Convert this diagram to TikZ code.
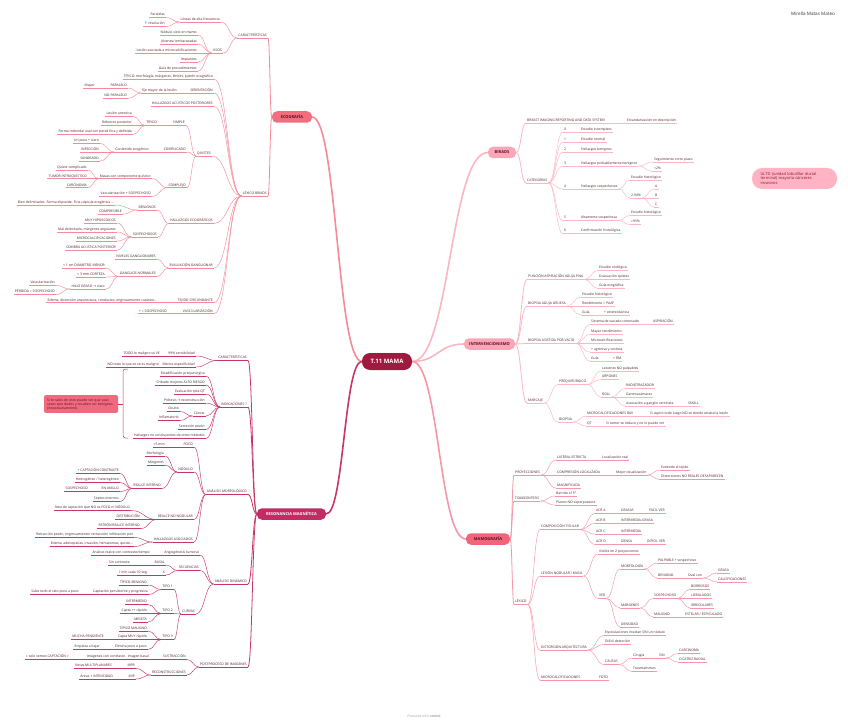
\documentclass[tikz,border=0pt]{standalone}
\usepackage{fontspec}
\setmainfont{Open Sans}
\newfontfamily\symf{DejaVu Sans}
\usetikzlibrary{calc}
\definecolor{txt}{RGB}{74,34,40}
\definecolor{mtxt}{RGB}{92,15,36}
\definecolor{hubF}{RGB}{158,26,62}
\definecolor{ecoF}{RGB}{242,110,127}
\definecolor{ecoL}{RGB}{245,138,153}
\definecolor{rmF}{RGB}{196,42,99}
\definecolor{rmL}{RGB}{201,53,107}
\definecolor{birF}{RGB}{249,167,184}
\definecolor{birL}{RGB}{251,182,195}
\definecolor{mamF}{RGB}{240,101,123}
\definecolor{mamL}{RGB}{245,151,168}
\definecolor{noteF}{RGB}{240,106,126}
\definecolor{ultdF}{RGB}{255,179,195}
\definecolor{ultdT}{RGB}{140,26,58}
\colorlet{brc}{ecoL}

\begin{document}
\begin{tikzpicture}[x=1pt, y=-1pt,
    leaf/.style={font=\fontsize{3.4}{4}\selectfont, text=txt, inner xsep=1pt, inner ysep=0.6pt,
                 text height=2.5pt, text depth=0.75pt,
                 append after command={(\tikzlastnode.south west) edge[draw=brc, line width=#1] (\tikzlastnode.south east)}},
    leaf/.default=0.45pt,
    lleaf/.style={leaf=#1, anchor=south east}, lleaf/.default=0.45pt,
    rleaf/.style={leaf=#1, anchor=south west}, rleaf/.default=0.45pt,
    lk/.style={draw=brc, line width=#1, to path={let \p1=(\tikztostart), \p2=(\tikztotarget) in
               .. controls ({(\x1+\x2)/2},\y1) and ({(\x1+\x2)/2},\y2) .. (\tikztotarget)}},
    lk/.default=0.45pt,
    mainb/.style={rounded corners=5pt, fill=#1, text=mtxt, font=\bfseries\fontsize{4}{5}\selectfont,
                  minimum height=11.5pt, inner xsep=4pt, inner ysep=0pt},
    hub/.style={rounded corners=8pt, fill=hubF, text=white, font=\bfseries\fontsize{6}{7}\selectfont,
                minimum width=50pt, minimum height=17pt}]

  \fill[white] (0,0) rectangle (848,722);
  \useasboundingbox (0,0) rectangle (848,722);

  \node[hub] (hub) at (387,361.5) {T.11 MAMA};
  \node[font=\fontsize{4.6}{5}\selectfont, text=black!80] (autor) at (813,14) {Mirella Matas Mateo};
  \node[font=\fontsize{3.4}{4}\selectfont, text=black!35] (pie) at (424,716) {Powered with \textbf{xmind}};
  \node[fill=ultdF, rounded corners=10pt, text=ultdT, font=\fontsize{4}{4.8}\selectfont, align=left,
        text width=68pt, minimum width=85pt, minimum height=21pt] (ultd) at (794.5,178.5)
        {ULTD (unidad lobulillar ductal\\terminal) mayoría cánceres\\invasivos};

  % ecografia
  \begin{scope}
  \colorlet{brc}{ecoL}
  \node[mainb=ecoF, minimum width=40pt] (eco) at (292,117) {ECOGRAFÍA};
  \draw[lk=1.6pt] (hub.west) to (eco.east);

  \node[lleaf=0.7pt] (eCar) at (268,38) {CARACTERÍSTICAS};
  \draw[lk=0.8pt] (eco.west) to (eCar.south east);
  \node[lleaf] (eLin) at (221,22) {Líneas de alta frecuencia};
  \draw[lk] (eCar.south west) to (eLin.south east);
  \node[lleaf] (ePar) at (166,17.5) {Paralelas};
  \draw[lk] (eLin.south west) to (ePar.south east);
  \node[lleaf] (eRes) at (166,26.5) {{\symf ↑} resolución};
  \draw[lk] (eLin.south west) to (eRes.south east);
  \node[lleaf] (eUso) at (223,53) {USOS};
  \draw[lk] (eCar.south west) to (eUso.south east);
  \node[lleaf] (eU1) at (198,35) {Nódulo visto en mamo};
  \draw[lk] (eUso.south west) to (eU1.south east);
  \node[lleaf] (eU2) at (198,44) {Jóvenes/ embarazadas};
  \draw[lk] (eUso.south west) to (eU2.south east);
  \node[lleaf] (eU3) at (198,53) {Lesión asociada a microcalcificaciones};
  \draw[lk] (eUso.south west) to (eU3.south east);
  \node[lleaf] (eU4) at (198,62) {Implantes};
  \draw[lk] (eUso.south west) to (eU4.south east);
  \node[lleaf] (eU5) at (198,71) {Guía de procedimientos};
  \draw[lk] (eUso.south west) to (eU5.south east);

  \node[lleaf=0.7pt] (eLex) at (268,196) {LÉXICO BIRADS};
  \draw[lk=0.8pt] (eco.west) to (eLex.south east);
  \node[lleaf] (eTip) at (214,79) {TÍPICO: morfología, márgenes, límites, patrón ecográfico};
  \draw[lk] (eLex.south west) to (eTip.south east);
  \node[lleaf] (eOri) at (214,93) {ORIENTACIÓN};
  \draw[lk] (eLex.south west) to (eOri.south east);
  \node[lleaf] (eEje) at (178,93) {Eje mayor de la lesión};
  \draw[lk] (eOri.south west) to (eEje.south east);
  \node[lleaf] (ePa) at (128,88) {PARALELO};
  \draw[lk] (eEje.south west) to (ePa.south east);
  \node[lleaf] (eMay) at (96,88) {Mayor};
  \draw[lk] (ePa.south west) to (eMay.south east);
  \node[lleaf] (eNpa) at (128,98.5) {NO PARALELO};
  \draw[lk] (eEje.south west) to (eNpa.south east);
  \node[lleaf] (eAcu) at (214,106.5) {HALLAZGOS ACÚSTICOS POSTERIORES};
  \draw[lk] (eLex.south west) to (eAcu.south east);

  \node[lleaf] (eQui) at (212,156) {QUISTES};
  \draw[lk] (eLex.south west) to (eQui.south east);
  \node[lleaf] (eSim) at (186,125.5) {SIMPLE};
  \draw[lk] (eQui.south west) to (eSim.south east);
  \node[lleaf] (eTi2) at (158,125.5) {TÍPICO};
  \draw[lk] (eSim.south west) to (eTi2.south east);
  \node[lleaf] (eAne) at (133,116.5) {Lesión anecoica};
  \draw[lk] (eTi2.south west) to (eAne.south east);
  \node[lleaf] (eRef) at (133,125.5) {Refuerzo posterior};
  \draw[lk] (eTi2.south west) to (eRef.south east);
  \node[lleaf] (eFor) at (133,134.5) {Forma redonda/ oval con pared fina y definida};
  \draw[lk] (eTi2.south west) to (eFor.south east);
  \node[lleaf] (eCom) at (187,152) {COMPLICADO};
  \draw[lk] (eQui.south west) to (eCom.south east);
  \node[lleaf] (eCon) at (150,152) {Contenido ecogénico};
  \draw[lk] (eCom.south west) to (eCon.south east);
  \node[lleaf] (eCla) at (100,143.5) {Un poco + claro};
  \draw[lk] (eCon.south west) to (eCla.south east);
  \node[lleaf] (eInf) at (100,152) {INFECCIÓN};
  \draw[lk] (eCon.south west) to (eInf.south east);
  \node[lleaf] (eSan) at (100,161) {SANGRADO};
  \draw[lk] (eCon.south west) to (eSan.south east);
  \node[lleaf] (eCpj) at (187,187.7) {COMPLEJO};
  \draw[lk] (eQui.south west) to (eCpj.south east);
  \node[lleaf] (eMas) at (152,178.7) {Masas con componente quístico};
  \draw[lk] (eCpj.south west) to (eMas.south east);
  \node[lleaf] (eQco) at (88,170) {Quiste complicado};
  \draw[lk] (eMas.south west) to (eQco.south east);
  \node[lleaf] (eTum) at (88,178.7) {TUMOR INTRAQUÍSTICO};
  \draw[lk] (eMas.south west) to (eTum.south east);
  \node[lleaf] (eCar2) at (88,187.7) {CARCINOMA};
  \draw[lk] (eMas.south west) to (eCar2.south east);
  \node[lleaf] (eVas) at (152,196.4) {Vascularización + SOSPECHOSO};
  \draw[lk] (eCpj.south west) to (eVas.south east);

  \node[lleaf] (eHal) at (214,223.5) {HALLAZGOS ECOGRÁFICOS};
  \draw[lk] (eLex.south west) to (eHal.south east);
  \node[lleaf] (eBen) at (157,210) {BENIGNOS};
  \draw[lk] (eHal.south west) to (eBen.south east);
  \node[lleaf] (eBie) at (115,205) {Bien delimitados. Forma elipsoide. Fina cápsula ecogénica ...};
  \draw[lk] (eBen.south west) to (eBie.south east);
  \node[lleaf] (eCps) at (123,214) {COMPRESIBLE};
  \draw[lk] (eBen.south west) to (eCps.south east);
  \node[lleaf] (eSos) at (158,237) {SOSPECHOSOS};
  \draw[lk] (eHal.south west) to (eSos.south east);
  \node[lleaf] (eS1) at (117,223) {MUY HIPOECOICOS};
  \draw[lk] (eSos.south west) to (eS1.south east);
  \node[lleaf] (eS2) at (117,232) {Mal delimitado, márgenes angulares};
  \draw[lk] (eSos.south west) to (eS2.south east);
  \node[lleaf] (eS3) at (117,241) {MICROCALCIFICACIONES};
  \draw[lk] (eSos.south west) to (eS3.south east);
  \node[lleaf] (eS4) at (117,250) {SOMBRA ACÚSTICA POSTERIOR};
  \draw[lk] (eSos.south west) to (eS4.south east);

  \node[lleaf] (eGan) at (214,268) {EVALUACIÓN GANGLIONAR};
  \draw[lk] (eLex.south west) to (eGan.south east);
  \node[lleaf] (eNiv) at (157,259) {NIVELES GANGLIONARES};
  \draw[lk] (eGan.south west) to (eNiv.south east);
  \node[lleaf] (eGno) at (157,276.5) {GANGLIOS NORMALES};
  \draw[lk] (eGan.south west) to (eGno.south east);
  \node[lleaf] (eG1) at (106,268) {< 1 cm DIÁMETRO MENOR};
  \draw[lk] (eGno.south west) to (eG1.south east);
  \node[lleaf] (eG2) at (106,277) {< 3 mm CORTEZA};
  \draw[lk] (eGno.south west) to (eG2.south east);
  \node[lleaf] (eG3) at (106,289) {HILIO GRASO {\symf →} claro};
  \draw[lk] (eGno.south west) to (eG3.south east);
  \node[lleaf] (eHv) at (56,285.5) {Vascularización};
  \draw[lk] (eG3.south west) to (eHv.south east);
  \node[lleaf] (eHp) at (56,294.5) {PÉRDIDA = SOSPECHOSO};
  \draw[lk] (eG3.south west) to (eHp.south east);

  \node[lleaf] (eTej) at (214,302.7) {TEJIDO CIRCUNDANTE};
  \draw[lk] (eLex.south west) to (eTej.south east);
  \node[lleaf] (eEde) at (158,302.7) {Edema, distorsión arquitectura, conductos, engrosamiento cutáneo...};
  \draw[lk] (eTej.south west) to (eEde.south east);
  \node[lleaf] (eVsc) at (214,313.7) {VASCULARIZACIÓN};
  \draw[lk] (eLex.south west) to (eVsc.south east);
  \node[lleaf] (eVss) at (168,313.7) {+ = SOSPECHOSO};
  \draw[lk] (eVsc.south west) to (eVss.south east);
  \end{scope}

  % resonancia magnetica
  \begin{scope}
  \colorlet{brc}{rmL}
  \node[mainb=rmF, text=white, minimum width=69pt] (rm) at (291.5,514) {RESONANCIA MAGNÉTICA};
  \draw[lk=1.6pt] (hub.west) to (rm.east);

  \node[lleaf=0.7pt] (rCar) at (248,360.5) {CARACTERÍSTICAS};
  \draw[lk=0.8pt] (rm.west) to (rCar.south east);
  \node[lleaf] (r99) at (196,356) {99\% sensibilidad};
  \draw[lk] (rCar.south west) to (r99.south east);
  \node[lleaf] (rTodo) at (161,356) {TODO lo maligno se VE};
  \draw[lk] (r99.south west) to (rTodo.south east);
  \node[lleaf] (rMen) at (196,367) {Menos especificidad};
  \draw[lk] (rCar.south west) to (rMen.south east);
  \node[lleaf] (rNo) at (160,367) {NO todo lo que se ve es maligno};
  \draw[lk] (rMen.south west) to (rNo.south east);

  \node[lleaf=0.7pt] (rInd) at (248,407) {INDICACIONES ?};
  \draw[lk=0.8pt] (rm.west) to (rInd.south east);
  \node[lleaf] (rEst) at (206,376) {Estadificación prequirúrgica};
  \draw[lk] (rInd.south west) to (rEst.south east);
  \node[lleaf] (rCri) at (206,385) {Cribado mujeres ALTO RIESGO};
  \draw[lk] (rInd.south west) to (rCri.south east);
  \node[lleaf] (rEva) at (206,394) {Evaluación rpta QT};
  \draw[lk] (rInd.south west) to (rEva.south east);
  \node[lleaf] (rPro) at (206,403) {Prótesis {\symf →} reconstrucción};
  \draw[lk] (rInd.south west) to (rPro.south east);
  \node[lleaf] (rCan) at (206,416) {Cáncer};
  \draw[lk] (rInd.south west) to (rCan.south east);
  \node[lleaf] (rOcu) at (180,411.5) {Oculto};
  \draw[lk] (rCan.south west) to (rOcu.south east);
  \node[lleaf] (rInf) at (180,420.5) {Inflamatorio};
  \draw[lk] (rCan.south west) to (rInf.south east);
  \node[lleaf] (rSec) at (206,429.5) {Secreción pezón};
  \draw[lk] (rInd.south west) to (rSec.south east);
  \node[lleaf] (rHal) at (206,438.5) {Hallazgos no concluyentes de otros métodos};
  \draw[lk] (rInd.south west) to (rHal.south east);

  \node[fill=noteF, rounded corners=2pt, text=mtxt, font=\fontsize{3.4}{4}\selectfont, align=left,
        text width=68pt, minimum width=74pt, minimum height=14pt, inner xsep=2pt] (nota) at (81,404)
        {Si te sales de esto puede ser que veas\\casos que dudes y resulten ser benignos\\(innecesariamente)};
  \coordinate (brT) at (128,369);
  \coordinate (brB) at (128,438);
  \coordinate (brM) at (123,404);
  \draw[draw=brc, line width=0.5pt, rounded corners=2.5pt] (brT) -- (123,369) -- (123,438) -- (brB);
  \draw[lk] (nota.east) -- (brM);

  \node[lleaf=0.7pt] (rMor) at (248,494.5) {ANÁLISIS MORFOLÓGICO};
  \draw[lk=0.8pt] (rm.west) to (rMor.south east);
  \node[lleaf] (rFoc) at (194,447) {FOCO};
  \draw[lk] (rMor.south west) to (rFoc.south east);
  \node[lleaf] (r5mm) at (166,447) {<5 mm};
  \draw[lk] (rFoc.south west) to (r5mm.south east);
  \node[lleaf] (rNod) at (194,472) {NÓDULO};
  \draw[lk] (rMor.south west) to (rNod.south east);
  \node[lleaf] (rMorf) at (165,456) {Morfología};
  \draw[lk] (rNod.south west) to (rMorf.south east);
  \node[lleaf] (rMar) at (165,465) {Márgenes};
  \draw[lk] (rNod.south west) to (rMar.south east);
  \node[lleaf] (rRea) at (162,488.5) {REALCE INTERNO};
  \draw[lk] (rNod.south west) to (rRea.south east);
  \node[lleaf] (rCap) at (120,473.5) {+ CAPTACIÓN CONTRASTE};
  \draw[lk] (rRea.south west) to (rCap.south east);
  \node[lleaf] (rHom) at (120,482.5) {Homogéneo / heterogéneo};
  \draw[lk] (rRea.south west) to (rHom.south east);
  \node[lleaf] (rAni) at (120,491.5) {EN ANILLO};
  \draw[lk] (rRea.south west) to (rAni.south east);
  \node[lleaf] (rSos) at (89,491.5) {SOSPECHOSO};
  \draw[lk] (rAni.south west) to (rSos.south east);
  \node[lleaf] (rSep) at (120,501.5) {Septos internos};
  \draw[lk] (rRea.south west) to (rSep.south east);
  \node[lleaf] (rRnn) at (194,519.5) {REALCE NO NODULAR};
  \draw[lk] (rMor.south west) to (rRnn.south east);
  \node[lleaf] (rAre) at (131,510.5) {Área de captación que NO es FOCO ni NÓDULO};
  \draw[lk] (rRnn.south west) to (rAre.south east);
  \node[lleaf] (rDis) at (141,519.5) {DISTRIBUCIÓN};
  \draw[lk] (rRnn.south west) to (rDis.south east);
  \node[lleaf] (rPat) at (141,528.5) {PATRÓN REALCE INTERNO};
  \draw[lk] (rRnn.south west) to (rPat.south east);
  \node[lleaf] (rAso) at (194,542) {HALLAZGOS ASOCIADOS};
  \draw[lk] (rMor.south west) to (rAso.south east);
  \node[lleaf] (rRet) at (134,537.5) {Retracción pezón, engrosamiento/ retracción/ infiltración piel};
  \draw[lk] (rAso.south west) to (rRet.south east);
  \node[lleaf] (rEde) at (134,546.5) {Edema, adenopatías, invasión, hematomas, quiste...};
  \draw[lk] (rAso.south west) to (rEde.south east);

  \node[lleaf=0.7pt] (rDin) at (248,584) {ANÁLISIS DINÁMICO};
  \draw[lk=0.8pt] (rm.west) to (rDin.south east);
  \node[lleaf] (rAng) at (200,555) {Angiogénesis tumoral};
  \draw[lk] (rDin.south west) to (rAng.south east);
  \node[lleaf] (rAnr) at (151,555) {Análisis realce con contraste/tiempo};
  \draw[lk] (rAng.south west) to (rAnr.south east);
  \node[lleaf] (rSecu) at (200,570.5) {SECUENCIAS};
  \draw[lk] (rDin.south west) to (rSecu.south east);
  \node[lleaf] (rBas) at (166,565) {BASAL};
  \draw[lk] (rSecu.south west) to (rBas.south east);
  \node[lleaf] (rSin) at (131,565) {Sin contraste};
  \draw[lk] (rBas.south west) to (rSin.south east);
  \node[lleaf] (rX) at (166,575) {X};
  \draw[lk] (rSecu.south west) to (rX.south east);
  \node[lleaf] (rMin) at (149,575) {1 min cada 10 seg.};
  \draw[lk] (rX.south west) to (rMin.south east);
  \node[lleaf] (rCur) at (196,614) {CURVAS};
  \draw[lk] (rDin.south west) to (rCur.south east);
  \node[lleaf] (rT1) at (174,589.5) {TIPO 1};
  \draw[lk] (rCur.south west) to (rT1.south east);
  \node[lleaf] (rTb) at (148,585) {TÍPICO BENIGNO};
  \draw[lk] (rT1.south west) to (rTb.south east);
  \node[lleaf] (rCp) at (149,594.5) {Captación persistente y progresiva};
  \draw[lk] (rT1.south west) to (rCp.south east);
  \node[lleaf] (rSub) at (80,594.5) {Sube todo el rato poco a poco};
  \draw[lk] (rCp.south west) to (rSub.south east);
  \node[lleaf] (rT2) at (174,613.5) {TIPO 2};
  \draw[lk] (rCur.south west) to (rT2.south east);
  \node[lleaf] (rInt) at (148,604.5) {INTERMEDIO};
  \draw[lk] (rT2.south west) to (rInt.south east);
  \node[lleaf] (rCap2) at (148,613.5) {Capta ++ rápido};
  \draw[lk] (rT2.south west) to (rCap2.south east);
  \node[lleaf] (rMes) at (148,622) {MESETA};
  \draw[lk] (rT2.south west) to (rMes.south east);
  \node[lleaf] (rT3) at (174,639.5) {TIPO 3};
  \draw[lk] (rCur.south west) to (rT3.south east);
  \node[lleaf] (rTm) at (148,631) {TÍPICO MALIGNO};
  \draw[lk] (rT3.south west) to (rTm.south east);
  \node[lleaf] (rMuy) at (148,639.5) {Capta MUY rápido};
  \draw[lk] (rT3.south west) to (rMuy.south east);
  \node[lleaf] (rMuc) at (105,639.5) {MUCHA PENDIENTE};
  \draw[lk] (rMuy.south west) to (rMuc.south east);
  \node[lleaf] (rEli) at (148,649.5) {Elimina poco a poco};
  \draw[lk] (rT3.south west) to (rEli.south east);
  \node[lleaf] (rEmp) at (101,649.5) {Empieza a bajar};
  \draw[lk] (rEli.south west) to (rEmp.south east);

  \node[lleaf=0.7pt] (rPost) at (248,667) {POSTPROCESO DE IMÁGENES};
  \draw[lk=0.8pt] (rm.west) to (rPost.south east);
  \node[lleaf] (rSus) at (187,659.5) {SUSTRACCIÓN};
  \draw[lk] (rPost.south west) to (rSus.south east);
  \node[lleaf] (rImg) at (150,659.5) {Imágenes con contraste - imagen basal};
  \draw[lk] (rSus.south west) to (rImg.south east);
  \node[lleaf] (rSolo) at (70,659.5) {= solo vemos CAPTACIÓN =};
  \draw[lk] (rImg.south west) to (rSolo.south east);
  \node[lleaf] (rRec) at (187,675) {RECONSTRUCCIONES};
  \draw[lk] (rPost.south west) to (rRec.south east);
  \node[lleaf] (rMpr) at (136,668.5) {MPR};
  \draw[lk] (rRec.south west) to (rMpr.south east);
  \node[lleaf] (rVis) at (113,668.5) {Vistas MULTIPLANARES};
  \draw[lk] (rMpr.south west) to (rVis.south east);
  \node[lleaf] (rMip) at (136,679) {MIP};
  \draw[lk] (rRec.south west) to (rMip.south east);
  \node[lleaf] (rAin) at (114,679) {Áreas + INTENSIDAD};
  \draw[lk] (rMip.south west) to (rAin.south east);
  \end{scope}

  % birads
  \begin{scope}
  \colorlet{brc}{birL}
  \node[mainb=birF, minimum width=28pt] (bir) at (502,152.5) {BIRADS};
  \draw[lk=1.6pt] (hub.east) to (bir.west);
  \node[rleaf=0.7pt] (bDef) at (526,123) {BREAST IMAGING REPORTING AND DATA SYSTEM};
  \draw[lk=0.8pt] (bir.east) to (bDef.south west);
  \node[rleaf] (bEst) at (626,123) {Estandarización en descripción};
  \draw[lk] (bDef.south east) to (bEst.south west);
  \node[rleaf=0.7pt] (bCat) at (526,183) {CATEGORÍAS};
  \draw[lk=0.8pt] (bir.east) to (bCat.south west);
  \node[rleaf] (b0) at (563,132) {0};
  \draw[lk] (bCat.south east) to (b0.south west);
  \node[rleaf] (b0t) at (580,132) {Estudio incompleto};
  \draw[lk] (b0.south east) to (b0t.south west);
  \node[rleaf] (b1) at (563,142) {1};
  \draw[lk] (bCat.south east) to (b1.south west);
  \node[rleaf] (b1t) at (580,142) {Estudio normal};
  \draw[lk] (b1.south east) to (b1t.south west);
  \node[rleaf] (b2) at (563,152) {2};
  \draw[lk] (bCat.south east) to (b2.south west);
  \node[rleaf] (b2t) at (580,152) {Hallazgos benignos};
  \draw[lk] (b2.south east) to (b2t.south west);
  \node[rleaf] (b3) at (563,166) {3};
  \draw[lk] (bCat.south east) to (b3.south west);
  \node[rleaf] (b3t) at (580,166) {Hallazgos probablemente benignos};
  \draw[lk] (b3.south east) to (b3t.south west);
  \node[rleaf] (b3a) at (653,162) {Seguimiento corto plazo};
  \draw[lk] (b3t.south east) to (b3a.south west);
  \node[rleaf] (b3b) at (653,171.5) {<2\%};
  \draw[lk] (b3t.south east) to (b3b.south west);
  \node[rleaf] (b4) at (563,189) {4};
  \draw[lk] (bCat.south east) to (b4.south west);
  \node[rleaf] (b4t) at (580,189) {Hallazgos sospechosos};
  \draw[lk] (b4.south east) to (b4t.south west);
  \node[rleaf] (b4a) at (630,180) {Estudio histológico};
  \draw[lk] (b4t.south east) to (b4a.south west);
  \node[rleaf] (b4b) at (630,198) {2-94\%};
  \draw[lk] (b4t.south east) to (b4b.south west);
  \node[rleaf] (b4A) at (654,189) {A};
  \draw[lk] (b4b.south east) to (b4A.south west);
  \node[rleaf] (b4B) at (654,198) {B};
  \draw[lk] (b4b.south east) to (b4B.south west);
  \node[rleaf] (b4C) at (654,207) {C};
  \draw[lk] (b4b.south east) to (b4C.south west);
  \node[rleaf] (b5) at (563,220.5) {5};
  \draw[lk] (bCat.south east) to (b5.south west);
  \node[rleaf] (b5t) at (580,220.5) {Altamente sospechosa};
  \draw[lk] (b5.south east) to (b5t.south west);
  \node[rleaf] (b5a) at (630,215.5) {Estudio histológico};
  \draw[lk] (b5t.south east) to (b5a.south west);
  \node[rleaf] (b5b) at (630,224.5) {>95\%};
  \draw[lk] (b5t.south east) to (b5b.south west);
  \node[rleaf] (b6) at (563,233.5) {6};
  \draw[lk] (bCat.south east) to (b6.south west);
  \node[rleaf] (b6t) at (580,233.5) {Confirmación histológica};
  \draw[lk] (b6.south east) to (b6t.south west);
  \end{scope}

  % intervencionismo
  \begin{scope}
  \colorlet{brc}{birL}
  \node[mainb=birF, minimum width=51pt] (int) at (489.5,344) {INTERVENCIONISMO};
  \draw[lk=1.6pt] (hub.east) to (int.west);
  \node[rleaf=0.7pt] (iPaaf) at (527,279.5) {PUNCIÓN ASPIRACIÓN AGUJA FINA};
  \draw[lk=0.8pt] (int.east) to (iPaaf.south west);
  \node[rleaf] (iCit) at (598,270.5) {Estudio citológico};
  \draw[lk] (iPaaf.south east) to (iCit.south west);
  \node[rleaf] (iEva) at (598,279.5) {Evacuación quistes};
  \draw[lk] (iPaaf.south east) to (iEva.south west);
  \node[rleaf] (iGui) at (598,288.5) {Guía ecográfica};
  \draw[lk] (iPaaf.south east) to (iGui.south west);
  \node[rleaf=0.7pt] (iBag) at (527,306) {BIOPSIA AGUJA GRUESA};
  \draw[lk=0.8pt] (int.east) to (iBag.south west);
  \node[rleaf] (iHis) at (581,297) {Estudio histológico};
  \draw[lk] (iBag.south east) to (iHis.south west);
  \node[rleaf] (iRen) at (581,306) {Rendimiento > PAAF};
  \draw[lk] (iBag.south east) to (iRen.south west);
  \node[rleaf] (iGu2) at (581,315) {Guía};
  \draw[lk] (iBag.south east) to (iGu2.south west);
  \node[rleaf] (iEst) at (603,315) {+ estereotáctica};
  \draw[lk] (iGu2.south east) to (iEst.south west);
  \node[rleaf=0.7pt] (iBav) at (527,343.5) {BIOPSIA ASISTIDA POR VACÍO};
  \draw[lk=0.8pt] (int.east) to (iBav.south west);
  \node[rleaf] (iSis) at (590,324.5) {Sistema de vaciado conectado};
  \draw[lk] (iBav.south east) to (iSis.south west);
  \node[rleaf] (iAsp) at (652,324.5) {ASPIRACIÓN};
  \draw[lk] (iSis.south east) to (iAsp.south west);
  \node[rleaf] (iMay) at (590,334.5) {Mayor rendimiento};
  \draw[lk] (iBav.south east) to (iMay.south west);
  \node[rleaf] (iMic) at (590,343.5) {Microcalcificaciones};
  \draw[lk] (iBav.south east) to (iMic.south west);
  \node[rleaf] (iAgr) at (590,352) {+ agresiva y costosa};
  \draw[lk] (iBav.south east) to (iAgr.south west);
  \node[rleaf] (iGu3) at (590,361) {Guía};
  \draw[lk] (iBav.south east) to (iGu3.south west);
  \node[rleaf] (iRm) at (612,361) {+ RM};
  \draw[lk] (iGu3.south east) to (iRm.south west);
  \node[rleaf=0.7pt] (iMar) at (527,403) {MARCAJE};
  \draw[lk=0.8pt] (int.east) to (iMar.south west);
  \node[rleaf] (iPre) at (558,384.5) {PREQUIRÚRGICO};
  \draw[lk] (iMar.south east) to (iPre.south west);
  \node[rleaf] (iLes) at (601,371) {Lesiones NO palpables};
  \draw[lk] (iPre.south east) to (iLes.south west);
  \node[rleaf] (iArp) at (601,379.5) {ARPONES};
  \draw[lk] (iPre.south east) to (iArp.south west);
  \node[rleaf] (iRol) at (601,397) {ROLL};
  \draw[lk] (iPre.south east) to (iRol.south west);
  \node[rleaf] (iRad) at (625,388.5) {RADIOTRAZADOR};
  \draw[lk] (iRol.south east) to (iRad.south west);
  \node[rleaf] (iGam) at (625,397) {Gammacámaras};
  \draw[lk] (iRol.south east) to (iGam.south west);
  \node[rleaf] (iAso) at (625,406) {Asociación a ganglio centinela};
  \draw[lk] (iRol.south east) to (iAso.south west);
  \node[rleaf] (iSno) at (687,406) {SNOLL};
  \draw[lk] (iAso.south east) to (iSno.south west);
  \node[rleaf] (iBio) at (558,422) {BIOPSIA};
  \draw[lk] (iMar.south east) to (iBio.south west);
  \node[rleaf] (iMba) at (586,416) {MICROCALCIFICACIONES BAV};
  \draw[lk] (iBio.south east) to (iMba.south west);
  \node[rleaf] (iSia) at (649,416) {Si aspiro todo luego NO se donde estaba la lesión};
  \draw[lk] (iMba.south east) to (iSia.south west);
  \node[rleaf] (iQt) at (586,426) {QT};
  \draw[lk] (iBio.south east) to (iQt.south west);
  \node[rleaf] (iSit) at (605,426) {Si tumor se reduce y no lo puedo ver};
  \draw[lk] (iQt.south east) to (iSit.south west);
  \end{scope}

  % mamografia
  \begin{scope}
  \colorlet{brc}{mamL}
  \node[mainb=mamF, minimum width=44pt] (mam) at (488,539) {MAMOGRAFÍA};
  \draw[lk=1.6pt] (hub.east) to (mam.west);
  \node[rleaf=0.7pt] (mPro) at (514,475) {PROYECCIONES};
  \draw[lk=0.8pt] (mam.east) to (mPro.south west);
  \node[rleaf] (mLat) at (556,460) {LATERAL ESTRICTA};
  \draw[lk] (mPro.south east) to (mLat.south west);
  \node[rleaf] (mLoc) at (601,460) {Localización real};
  \draw[lk] (mLat.south east) to (mLoc.south west);
  \node[rleaf] (mCom) at (556,475) {COMPRESIÓN LOCALIZADA};
  \draw[lk] (mPro.south east) to (mCom.south west);
  \node[rleaf] (mMej) at (615,475) {Mejor visualización};
  \draw[lk] (mCom.south east) to (mMej.south west);
  \node[rleaf] (mExt) at (660,470) {Extiende el tejido};
  \draw[lk] (mMej.south east) to (mExt.south west);
  \node[rleaf] (mDst) at (660,479.5) {Distorsiones NO REALES DESAPARECEN};
  \draw[lk] (mMej.south east) to (mDst.south west);
  \node[rleaf] (mMag) at (556,488) {MAGNIFICADA};
  \draw[lk] (mPro.south east) to (mMag.south west);
  \node[rleaf=0.7pt] (mTom) at (514,501) {TOMOSÍNTESIS};
  \draw[lk=0.8pt] (mam.east) to (mTom.south west);
  \node[rleaf] (mBar) at (555,496) {Barrido ±15º};
  \draw[lk] (mTom.south east) to (mBar.south west);
  \node[rleaf] (mPla) at (555,505) {Planos NO superpuestos};
  \draw[lk] (mTom.south east) to (mPla.south west);

  \node[rleaf=0.7pt] (mLex) at (514,604.5) {LÉXICO};
  \draw[lk=0.8pt] (mam.east) to (mLex.south west);
  \node[rleaf] (mCmp) at (540,529.5) {COMPOSICIÓN TISULAR};
  \draw[lk] (mLex.south east) to (mCmp.south west);
  \node[rleaf] (mA) at (595,513.5) {ACR A};
  \draw[lk] (mCmp.south east) to (mA.south west);
  \node[rleaf] (mAg) at (620,513.5) {GRASAS};
  \draw[lk] (mA.south east) to (mAg.south west);
  \node[rleaf] (mAf) at (648,513.5) {FÁCIL VER};
  \draw[lk] (mAg.south east) to (mAf.south west);
  \node[rleaf] (mB) at (595,523.5) {ACR B};
  \draw[lk] (mCmp.south east) to (mB.south west);
  \node[rleaf] (mBg) at (620,523.5) {INTERMEDIA-GRASA};
  \draw[lk] (mB.south east) to (mBg.south west);
  \node[rleaf] (mC) at (595,534) {ACR C};
  \draw[lk] (mCmp.south east) to (mC.south west);
  \node[rleaf] (mCg) at (620,534) {INTERMEDIA};
  \draw[lk] (mC.south east) to (mCg.south west);
  \node[rleaf] (mD) at (595,544.5) {ACR D};
  \draw[lk] (mCmp.south east) to (mD.south west);
  \node[rleaf] (mDg) at (620,544.5) {DENSA};
  \draw[lk] (mD.south east) to (mDg.south west);
  \node[rleaf] (mDf) at (646,544.5) {DIFÍCIL VER};
  \draw[lk] (mDg.south east) to (mDf.south west);

  \node[rleaf] (mLes) at (540,576) {LESIÓN NODULAR / MASA};
  \draw[lk] (mLex.south east) to (mLes.south west);
  \node[rleaf] (mVis) at (598,554) {Visible en 2 proyecciones};
  \draw[lk] (mLes.south east) to (mVis.south west);
  \node[rleaf] (mVer) at (598,598.5) {VER};
  \draw[lk] (mLes.south east) to (mVer.south west);
  \node[rleaf] (mMrf) at (620,569) {MORFOLOGÍA};
  \draw[lk] (mVer.south east) to (mMrf.south west);
  \node[rleaf] (mPal) at (657,563) {PALPABLE + sospechoso};
  \draw[lk] (mMrf.south east) to (mPal.south west);
  \node[rleaf] (mBen) at (657,578) {BENIGNO};
  \draw[lk] (mMrf.south east) to (mBen.south west);
  \node[rleaf] (mOva) at (687,578) {Oval con};
  \draw[lk] (mBen.south east) to (mOva.south west);
  \node[rleaf] (mGra) at (717,573) {GRASA};
  \draw[lk] (mOva.south east) to (mGra.south west);
  \node[rleaf] (mCal) at (717,582) {CALCIFICACIONES};
  \draw[lk] (mOva.south east) to (mCal.south west);
  \node[rleaf] (mMrg) at (620,608) {MÁRGENES};
  \draw[lk] (mVer.south east) to (mMrg.south west);
  \node[rleaf] (mSos) at (653,598.5) {SOSPECHOSO};
  \draw[lk] (mMrg.south east) to (mSos.south west);
  \node[rleaf] (mBor) at (690,589.5) {BORROSOS};
  \draw[lk] (mSos.south east) to (mBor.south west);
  \node[rleaf] (mLob) at (690,598.5) {LOBULADOS};
  \draw[lk] (mSos.south east) to (mLob.south west);
  \node[rleaf] (mIrr) at (690,608) {IRREGULARES};
  \draw[lk] (mSos.south east) to (mIrr.south west);
  \node[rleaf] (mMal) at (653,617) {MALIGNO};
  \draw[lk] (mMrg.south east) to (mMal.south west);
  \node[rleaf] (mEst) at (684,617) {ESTELAR / ESPICULADO};
  \draw[lk] (mMal.south east) to (mEst.south west);
  \node[rleaf] (mDen) at (620,627) {DENSIDAD};
  \draw[lk] (mVer.south east) to (mDen.south west);

  \node[rleaf] (mDis) at (540,650) {DISTORSIÓN ARQUITECTURA};
  \draw[lk] (mLex.south east) to (mDis.south west);
  \node[rleaf] (mEsp) at (604,635.5) {Espiculaciones irradian SIN un nódulo};
  \draw[lk] (mDis.south east) to (mEsp.south west);
  \node[rleaf] (mDif) at (604,644.5) {Difícil detección};
  \draw[lk] (mDis.south east) to (mDif.south west);
  \node[rleaf] (mCau) at (604,664.5) {CAUSAS};
  \draw[lk] (mDis.south east) to (mCau.south west);
  \node[rleaf] (mCir) at (632,658) {Cirugía};
  \draw[lk] (mCau.south east) to (mCir.south west);
  \node[rleaf] (mSin) at (658,658) {SIN};
  \draw[lk] (mCir.south east) to (mSin.south west);
  \node[rleaf] (mCar) at (678,653.5) {CARCINOMA};
  \draw[lk] (mSin.south east) to (mCar.south west);
  \node[rleaf] (mCic) at (678,662) {CICATRIZ RADIAL};
  \draw[lk] (mSin.south east) to (mCic.south west);
  \node[rleaf] (mTra) at (632,671.5) {Traumatismos};
  \draw[lk] (mCau.south east) to (mTra.south west);
  \node[rleaf] (mMic) at (540,680) {MICROCALCIFICACIONES};
  \draw[lk] (mLex.south east) to (mMic.south west);
  \node[rleaf] (mFot) at (598,680) {FOTO};
  \draw[lk] (mMic.south east) to (mFot.south west);
  \end{scope}
\end{tikzpicture}
\end{document}
